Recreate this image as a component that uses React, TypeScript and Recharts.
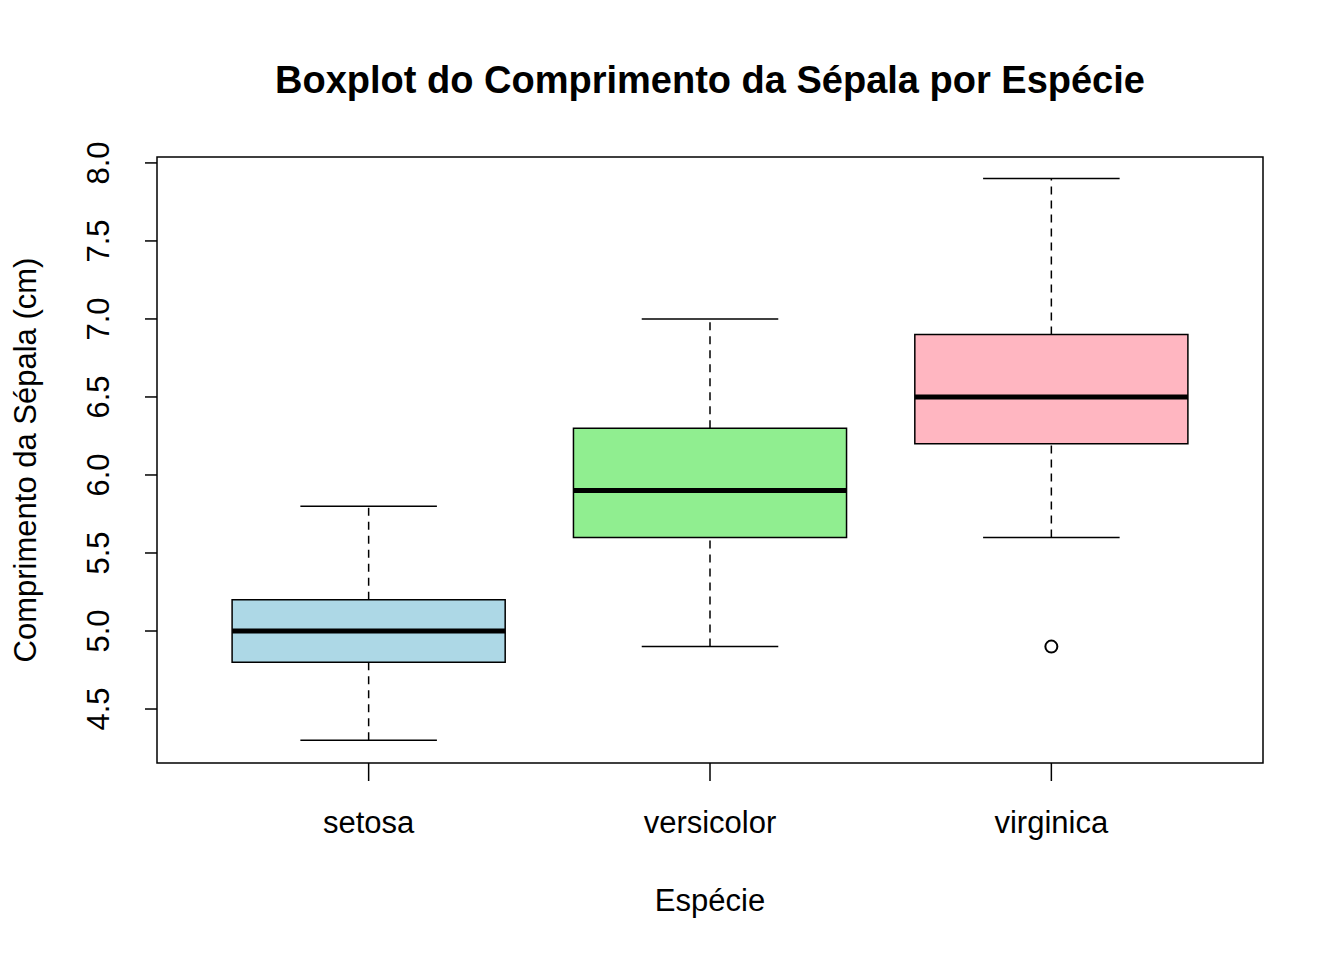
import { ComposedChart, XAxis, YAxis, ReferenceArea, ReferenceLine, Scatter } from "recharts";

const species = ["setosa", "versicolor", "virginica"];
const lowWhisker = [4.3, 4.9, 5.6];
const q1 = [4.8, 5.6, 6.2];
const median = [5.0, 5.9, 6.5];
const q3 = [5.2, 6.3, 6.9];
const highWhisker = [5.8, 7.0, 7.9];
const fills = ["#ADD8E6", "#90EE90", "#FFB6C1"];
const outliers = [{ x: 3, y: 4.9 }];
const yTicks = [4.5, 5.0, 5.5, 6.0, 6.5, 7.0, 7.5, 8.0];

const X_MIN = 0.38, X_MAX = 3.62, Y_MIN = 4.154, Y_MAX = 8.038;
const HALF_BOX = 0.4, HALF_CAP = 0.2;
const font = "Arial, 'Liberation Sans', sans-serif";

const YTick = (p: any) => (
  <text x={p.x - 34} y={p.y} transform={`rotate(-90 ${p.x - 34} ${p.y})`} textAnchor="middle" fontSize={31} fontFamily={font} fill="#000">
    {p.payload.value.toFixed(1)}
  </text>
);

const XTick = (p: any) => (
  <text x={p.x} y={p.y + 50} textAnchor="middle" fontSize={31} fontFamily={font} fill="#000">
    {species[p.payload.value - 1]}
  </text>
);

export default function App() {
  return (
    <div style={{ position: "absolute", left: 0, top: 0, width: 1344, height: 960, background: "#fff" }}>
      <ComposedChart width={1344} height={960} margin={{ top: 157, right: 81, bottom: 0, left: 0 }}>
        <XAxis type="number" dataKey="x" domain={[X_MIN, X_MAX]} ticks={[1, 2, 3]} tick={XTick}
          tickSize={18} axisLine={false} tickLine={{ stroke: "#000", strokeWidth: 1.5 }} height={197} allowDataOverflow />
        <YAxis type="number" dataKey="y" domain={[Y_MIN, Y_MAX]} ticks={yTicks} tick={YTick}
          tickSize={12} axisLine={false} tickLine={{ stroke: "#000", strokeWidth: 1.5 }} width={157} allowDataOverflow />
        {species.map((s, i) => {
          const c = i + 1;
          return [
            <ReferenceLine key={s + "lw"} segment={[{ x: c, y: lowWhisker[i] }, { x: c, y: q1[i] }]} stroke="#000" strokeWidth={1.5} strokeDasharray="8 6" />,
            <ReferenceLine key={s + "hw"} segment={[{ x: c, y: q3[i] }, { x: c, y: highWhisker[i] }]} stroke="#000" strokeWidth={1.5} strokeDasharray="8 6" />,
            <ReferenceLine key={s + "lc"} segment={[{ x: c - HALF_CAP, y: lowWhisker[i] }, { x: c + HALF_CAP, y: lowWhisker[i] }]} stroke="#000" strokeWidth={1.5} />,
            <ReferenceLine key={s + "hc"} segment={[{ x: c - HALF_CAP, y: highWhisker[i] }, { x: c + HALF_CAP, y: highWhisker[i] }]} stroke="#000" strokeWidth={1.5} />,
            <ReferenceArea key={s + "box"} x1={c - HALF_BOX} x2={c + HALF_BOX} y1={q1[i]} y2={q3[i]} fill={fills[i]} fillOpacity={1} stroke="#000" strokeWidth={1.5} />,
            <ReferenceLine key={s + "med"} segment={[{ x: c - HALF_BOX, y: median[i] }, { x: c + HALF_BOX, y: median[i] }]} stroke="#000" strokeWidth={5} />,
          ];
        })}
        <Scatter data={outliers} isAnimationActive={false}
          shape={(p: any) => <circle cx={p.cx} cy={p.cy} r={6} fill="none" stroke="#000" strokeWidth={2} />} />
        <ReferenceArea x1={X_MIN} x2={X_MAX} y1={Y_MIN} y2={Y_MAX} fill="none" stroke="#000" strokeWidth={1.5} ifOverflow="visible" />
        <text x={710} y={93} textAnchor="middle" fontSize={38} fontWeight="bold" fontFamily={font}>Boxplot do Comprimento da Sépala por Espécie</text>
        <text x={710} y={911} textAnchor="middle" fontSize={31} fontFamily={font}>Espécie</text>
        <text x={36} y={460} transform="rotate(-90 36 460)" textAnchor="middle" fontSize={31} fontFamily={font}>Comprimento da Sépala (cm)</text>
      </ComposedChart>
    </div>
  );
}
